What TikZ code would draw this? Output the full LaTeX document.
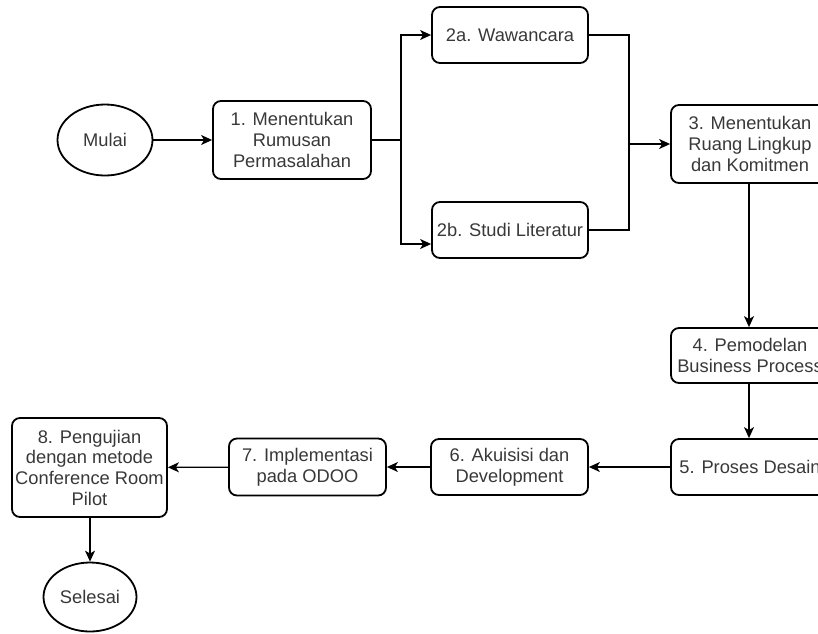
\documentclass[tikz,border=0pt]{standalone}
\usepackage{fontspec}
\setmainfont{Liberation Sans}
\usetikzlibrary{shapes.geometric,arrows.meta}
\tikzset{
  proc/.style={draw=black, line width=1.8pt, rounded corners=8pt, inner sep=0pt,
    align=center, text=black!78, font=\fontsize{18.3}{20.7}\selectfont},
  term/.style={draw=black, ellipse, line width=1.8pt, inner sep=0pt,
    text=black!78, font=\fontsize{18.3}{20.7}\selectfont},
  wire/.style={line width=1.2pt},
  conn/.style={line width=1.2pt, -{Stealth[length=11pt,width=10pt,inset=3pt]}}
}
\begin{document}
\begin{tikzpicture}[x=1pt,y=-1pt]
\useasboundingbox (0,0) rectangle (818,633);
\node[term, minimum width=95pt, minimum height=71pt] (mulai) at (105,140) {Mulai};
\node[proc, minimum width=158pt, minimum height=78pt] (b1) at (292,140) {1. Menentukan\\Rumusan\\Permasalahan};
\node[proc, minimum width=156pt, minimum height=56pt] (b2a) at (510,35) {2a. Wawancara};
\node[proc, minimum width=156pt, minimum height=56pt] (b2b) at (510,230) {2b. Studi Literatur};
\node[proc, minimum width=158pt, minimum height=78pt] (b3) at (750,144) {3. Menentukan\\Ruang Lingkup\\dan Komitmen};
\node[proc, minimum width=158pt, minimum height=55pt] (b4) at (750,355.5) {4. Pemodelan\\Business Process};
\node[proc, minimum width=158pt, minimum height=56pt] (b5) at (750,467) {5. Proses Desain};
\node[proc, minimum width=157pt, minimum height=56pt] (b6) at (509.5,467) {6. Akuisisi dan\\Development};
\node[proc, minimum width=157pt, minimum height=57pt] (b7) at (307.5,467) {7. Implementasi\\pada ODOO};
\node[proc, minimum width=155pt, minimum height=99pt] (b8) at (89.5,467.5) {8. Pengujian\\dengan metode\\Conference Room\\Pilot};
\node[term, minimum width=93pt, minimum height=69pt] (selesai) at (90,597) {Selesai};
\coordinate (bx) at (401,140);
\coordinate (mx) at (629,144);
\draw[conn] (mulai) -- (b1);
\draw[wire] (b1.east) -- (bx);
\draw[conn] (bx) |- (b2a.west);
\draw[conn] (bx) |- ([yshift=-14pt]b2b.west);
\draw[conn] (b2a.east) -| (mx) -- (b3.west);
\draw[wire] (b2b.east) -| (mx);
\draw[conn] (b3.south -| 749,0) -- (b4.north -| 749,0);
\draw[conn] (b4.south -| 749,0) -- (b5.north -| 749,0);
\draw[conn] (b5) -- (b6);
\draw[conn] (b6) -- (b7);
\draw[conn] (b7) -- (b8);
\draw[conn] (b8.south -| selesai) -- (selesai);
\end{tikzpicture}
\end{document}
